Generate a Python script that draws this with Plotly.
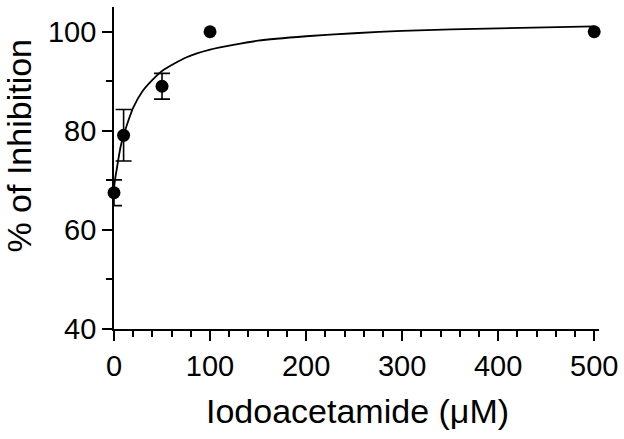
import plotly.graph_objects as go

# Measured data points
conc = [0, 10, 50, 100, 500]
inhibition = [67.5, 79.1, 89.0, 100.0, 100.0]
err = [2.6, 5.2, 2.6]          # error (SD) for the first three concentrations

# Fitted curve
fit_x = [0, 1, 2, 3, 5, 7, 10, 15, 20, 30, 40, 50, 75, 100, 150, 200, 250, 300, 400, 500]
fit_y = [68.5, 70.0, 71.3, 72.4, 74.8, 76.9, 79.1, 82.1, 84.7, 88.1, 90.3, 92.1, 94.8, 96.4,
         98.2, 99.1, 99.7, 100.2, 100.7, 101.1]

FONT = "Liberation Sans, Arial, sans-serif"
n_err = len(err)

fig = go.Figure()
fig.add_trace(go.Scatter(
    x=fit_x, y=fit_y, mode="lines",
    line=dict(color="black", width=1.8, shape="spline", smoothing=0.6),
    cliponaxis=False, showlegend=False, hoverinfo="skip"))
# error bars
fig.add_trace(go.Scatter(
    x=conc[:n_err], y=inhibition[:n_err], mode="markers",
    marker=dict(color="black", size=13, symbol="circle"),
    error_y=dict(type="data", array=err, visible=True, color="black",
                 thickness=1.6, width=8),
    cliponaxis=False, showlegend=False))
# points without error bars
fig.add_trace(go.Scatter(
    x=conc[n_err:], y=inhibition[n_err:], mode="markers",
    marker=dict(color="black", size=13, symbol="circle"),
    cliponaxis=False, showlegend=False))

fig.update_layout(
    width=624, height=439,
    margin=dict(l=114, r=25, t=7, b=110),
    paper_bgcolor="white", plot_bgcolor="white",
    font=dict(family=FONT, color="black", size=29),
    xaxis=dict(
        range=[0, 505], showgrid=False, zeroline=False,
        showline=True, linecolor="black", linewidth=1.8,
        tickmode="linear", tick0=0, dtick=100,
        ticks="outside", ticklen=10, tickwidth=1.8, tickcolor="black",
        tickfont=dict(size=29, family=FONT),
        minor=dict(dtick=20, ticks="outside", ticklen=6, tickwidth=1.5, tickcolor="black"),
    ),
    yaxis=dict(
        range=[40, 105], showgrid=False, zeroline=False,
        showline=True, linecolor="black", linewidth=1.8,
        tickmode="linear", tick0=40, dtick=20,
        ticks="outside", ticklen=10, tickwidth=1.8, tickcolor="black",
        tickfont=dict(size=29, family=FONT),
        minor=dict(dtick=10, ticks="outside", ticklen=6, tickwidth=1.5, tickcolor="black"),
    ),
    annotations=[
        dict(text="Iodoacetamide (μM)", xref="paper", yref="paper",
             x=0.502, y=-0.256, xanchor="center", yanchor="middle",
             showarrow=False, font=dict(size=34, family=FONT, color="black")),
        dict(text="% of Inhibition", xref="paper", yref="paper",
             x=-0.195, y=0.571, xanchor="center", yanchor="middle",
             textangle=-90, showarrow=False, font=dict(size=34, family=FONT, color="black")),
    ],
)

fig.write_html("out.html", config={"displayModeBar": False},
               post_script="document.body.style.margin='0';")
